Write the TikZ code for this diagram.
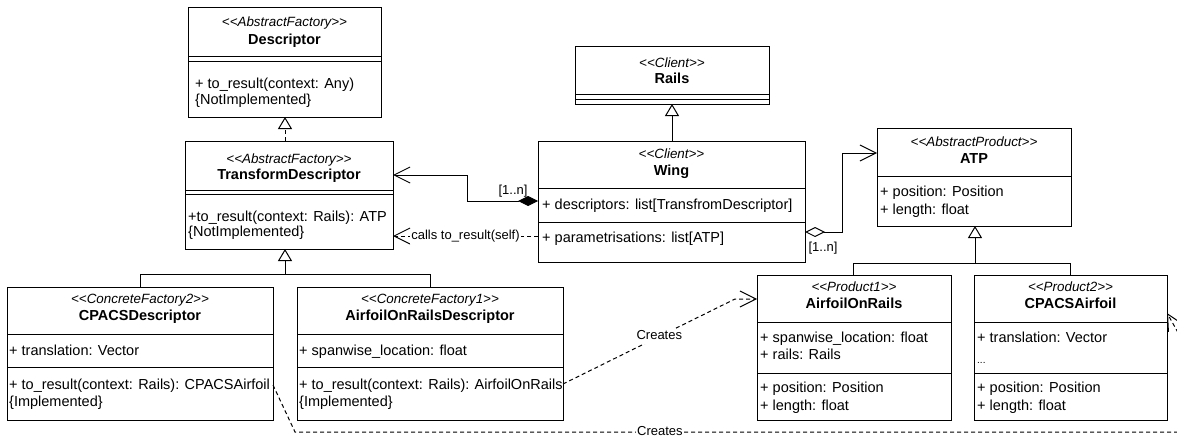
\documentclass[tikz,border=0pt]{standalone}
\usepackage{fontspec}
\setmainfont{Liberation Sans}
\usetikzlibrary{arrows.meta,calc}
\newcommand\hsep[2]{\draw[conn] ($(#1.north west)+(0,#2)$) -- ($(#1.north east)+(0,#2)$);}
\newcommand\st[1]{<{}<#1>{}>}
\begin{document}
\begin{tikzpicture}[x=1pt,y=-1pt,
  box/.style={draw, line width=1pt, inner sep=0pt, outer sep=0pt, anchor=north west},
  txt/.style={inner sep=0pt, text height=11pt, text depth=3pt, font=\fontsize{14.5}{17}\selectfont},
  stereo/.style={txt, font=\fontsize{13.4}{16}\selectfont\itshape},
  ttl/.style={txt, font=\fontsize{14.5}{17}\selectfont\bfseries},
  member/.style={txt, anchor=west},
  lbl/.style={inner sep=1pt, text height=10pt, text depth=3pt, font=\fontsize{13}{15}\selectfont, fill=white},
  conn/.style={line width=1pt},
  dashedline/.style={line width=1pt, dash pattern=on 4pt off 3pt},
  barb/.style={-{Straight Barb[length=16pt,width=16pt,line width=1pt]}},
  inherit/.style={-{Triangle[open,length=12pt,width=14pt,line width=1pt]}},
  compo/.style={{Diamond[length=20pt,width=10pt]}-{Straight Barb[length=16pt,width=16pt,line width=1pt]}},
  aggr/.style={{Diamond[open,length=20pt,width=10pt,line width=1pt]}-{Straight Barb[length=16pt,width=16pt,line width=1pt]}}
]
\useasboundingbox (0,0) rectangle (1177,439);
\fill[white] (0,0) rectangle (1177,439);
\clip (0,0) rectangle (1177,439);

% ---------- boxes ----------
\node[box, minimum width=193pt, minimum height=110pt] (desc) at (188,7) {};
\hsep{desc}{49}\hsep{desc}{54}
\node[stereo] (desc1) at (284.5,22) {\st{AbstractFactory}};
\node[ttl] (desc2) at (284.5,40) {Descriptor};
\node[member] (desc3) at (195,84) {+ to\_result(context: Any)};
\node[member] (desc4) at (195,100) {\{NotImplemented\}};

\node[box, minimum width=208pt, minimum height=108pt] (td) at (185,141) {};
\hsep{td}{49}\hsep{td}{53}
\node[stereo] (td1) at (289,159) {\st{AbstractFactory}};
\node[ttl] (td2) at (289,175) {TransformDescriptor};
\node[member] (td3) at (188,217) {+to\_result(context: Rails): ATP};
\node[member] (td4) at (188,232) {\{NotImplemented\}};

\node[box, minimum width=194pt, minimum height=58pt] (rails) at (575,46) {};
\hsep{rails}{48}\hsep{rails}{53}
\node[stereo] (rails1) at (672,63) {\st{Client}};
\node[ttl] (rails2) at (672,79) {Rails};

\node[box, minimum width=267pt, minimum height=121pt] (wing) at (538,141) {};
\hsep{wing}{47}\hsep{wing}{81}
\node[stereo] (wing1) at (671.5,154) {\st{Client}};
\node[ttl] (wing2) at (671.5,171) {Wing};
\node[member] (wing3) at (542,205) {+ descriptors: list[TransfromDescriptor]};
\node[member] (wing4) at (542,238) {+ parametrisations: list[ATP]};

\node[box, minimum width=194pt, minimum height=98pt] (atp) at (877,128) {};
\hsep{atp}{48}
\node[stereo] (atp1) at (974,142) {\st{AbstractProduct}};
\node[ttl] (atp2) at (974,159) {ATP};
\node[member] (atp3) at (880,192) {+ position: Position};
\node[member] (atp4) at (880,210) {+ length: float};

\node[box, minimum width=266pt, minimum height=133pt] (cpd) at (7,287) {};
\hsep{cpd}{47}\hsep{cpd}{80}
\node[stereo] (cpd1) at (140,299) {\st{ConcreteFactory2}};
\node[ttl] (cpd2) at (140,316) {CPACSDescriptor};
\node[member] (cpd3) at (9,351) {+ translation: Vector};
\node[member] (cpd4) at (9,385) {+ to\_result(context: Rails): CPACSAirfoil};
\node[member] (cpd5) at (9,402) {\{Implemented\}};

\node[box, minimum width=266pt, minimum height=133pt] (aord) at (297,287) {};
\hsep{aord}{47}\hsep{aord}{80}
\node[stereo] (aord1) at (430,299) {\st{ConcreteFactory1}};
\node[ttl] (aord2) at (430,316) {AirfoilOnRailsDescriptor};
\node[member] (aord3) at (299,351) {+ spanwise\_location: float};
\node[member] (aord4) at (299,385) {+ to\_result(context: Rails): AirfoilOnRails};
\node[member] (aord5) at (299,402) {\{Implemented\}};

\node[box, minimum width=194pt, minimum height=145pt] (aor) at (757,275) {};
\hsep{aor}{47}\hsep{aor}{98}
\node[stereo] (aor1) at (854,287) {\st{Product1}};
\node[ttl] (aor2) at (854,304) {AirfoilOnRails};
\node[member] (aor3) at (760,338) {+ spanwise\_location: float};
\node[member] (aor4) at (760,355) {+ rails: Rails};
\node[member] (aor5) at (760,388) {+ position: Position};
\node[member] (aor6) at (760,406) {+ length: float};

\node[box, minimum width=193pt, minimum height=145pt] (cpa) at (974,275) {};
\hsep{cpa}{47}\hsep{cpa}{98}
\node[stereo] (cpa1) at (1070.5,287) {\st{Product2}};
\node[ttl] (cpa2) at (1070.5,304) {CPACSAirfoil};
\node[member] (cpa3) at (977,338) {+ translation: Vector};
\node[member, font=\fontsize{10}{12}\selectfont] (cpa4) at (977,359) {...};
\node[member] (cpa5) at (977,388) {+ position: Position};
\node[member] (cpa6) at (977,406) {+ length: float};

% ---------- connectors ----------
\draw[dashedline, inherit] ($(td.north west)+(100,0)$) -- ($(desc.south west)+(97,0)$);
\draw[conn, inherit] ($(wing.north west)+(134,0)$) -- ($(rails.south west)+(97,0)$);

\draw[conn, compo] ($(wing.north west)+(0,60)$) -- ++(-71,0) |- ($(td.north east)+(0,34)$);
\node[lbl, fill=none] (m1) at (513,191) {[1..n]};

\draw[dashedline, barb] ($(wing.north west)+(0,95)$) -- node[lbl] (calls) {calls to\_result(self)} ($(td.north east)+(0,95)$);

\draw[conn, aggr] ($(wing.north east)+(0,91)$) -- ++(37,0) |- ($(atp.north west)+(0,25)$);
\node[lbl, fill=none] (m2) at (823,248) {[1..n]};

\draw[conn, inherit] ($(aor.north west)+(96,0)$) |- ($(atp.south west)+(98,37)$) -- ($(atp.south west)+(98,0)$);
\draw[conn] ($(cpa.north west)+(96,0)$) |- ($(atp.south west)+(98,37)$);

\draw[conn, inherit] ($(cpd.north west)+(133,0)$) |- ($(td.south west)+(100,25)$) -- ($(td.south west)+(100,0)$);
\draw[conn] ($(aord.north west)+(133,0)$) |- ($(td.south west)+(100,25)$);

\draw[dashedline, barb] ($(aord.north east)+(0,97)$) -- node[lbl, pos=0.56] (cr1) {Creates} ($(aor.north west)+(-22,24)$) -- ($(aor.north west)+(0,24)$);

\draw[dashedline, barb] ($(cpd.north east)+(0,98)$) -- ($(cpd.south east)+(22,12)$) -- node[lbl, pos=0.41] (cr2) {Creates} ++(890,0) -- ++(0,-87) -- ($(cpa.north east)+(0,38)$);
\end{tikzpicture}
\end{document}
